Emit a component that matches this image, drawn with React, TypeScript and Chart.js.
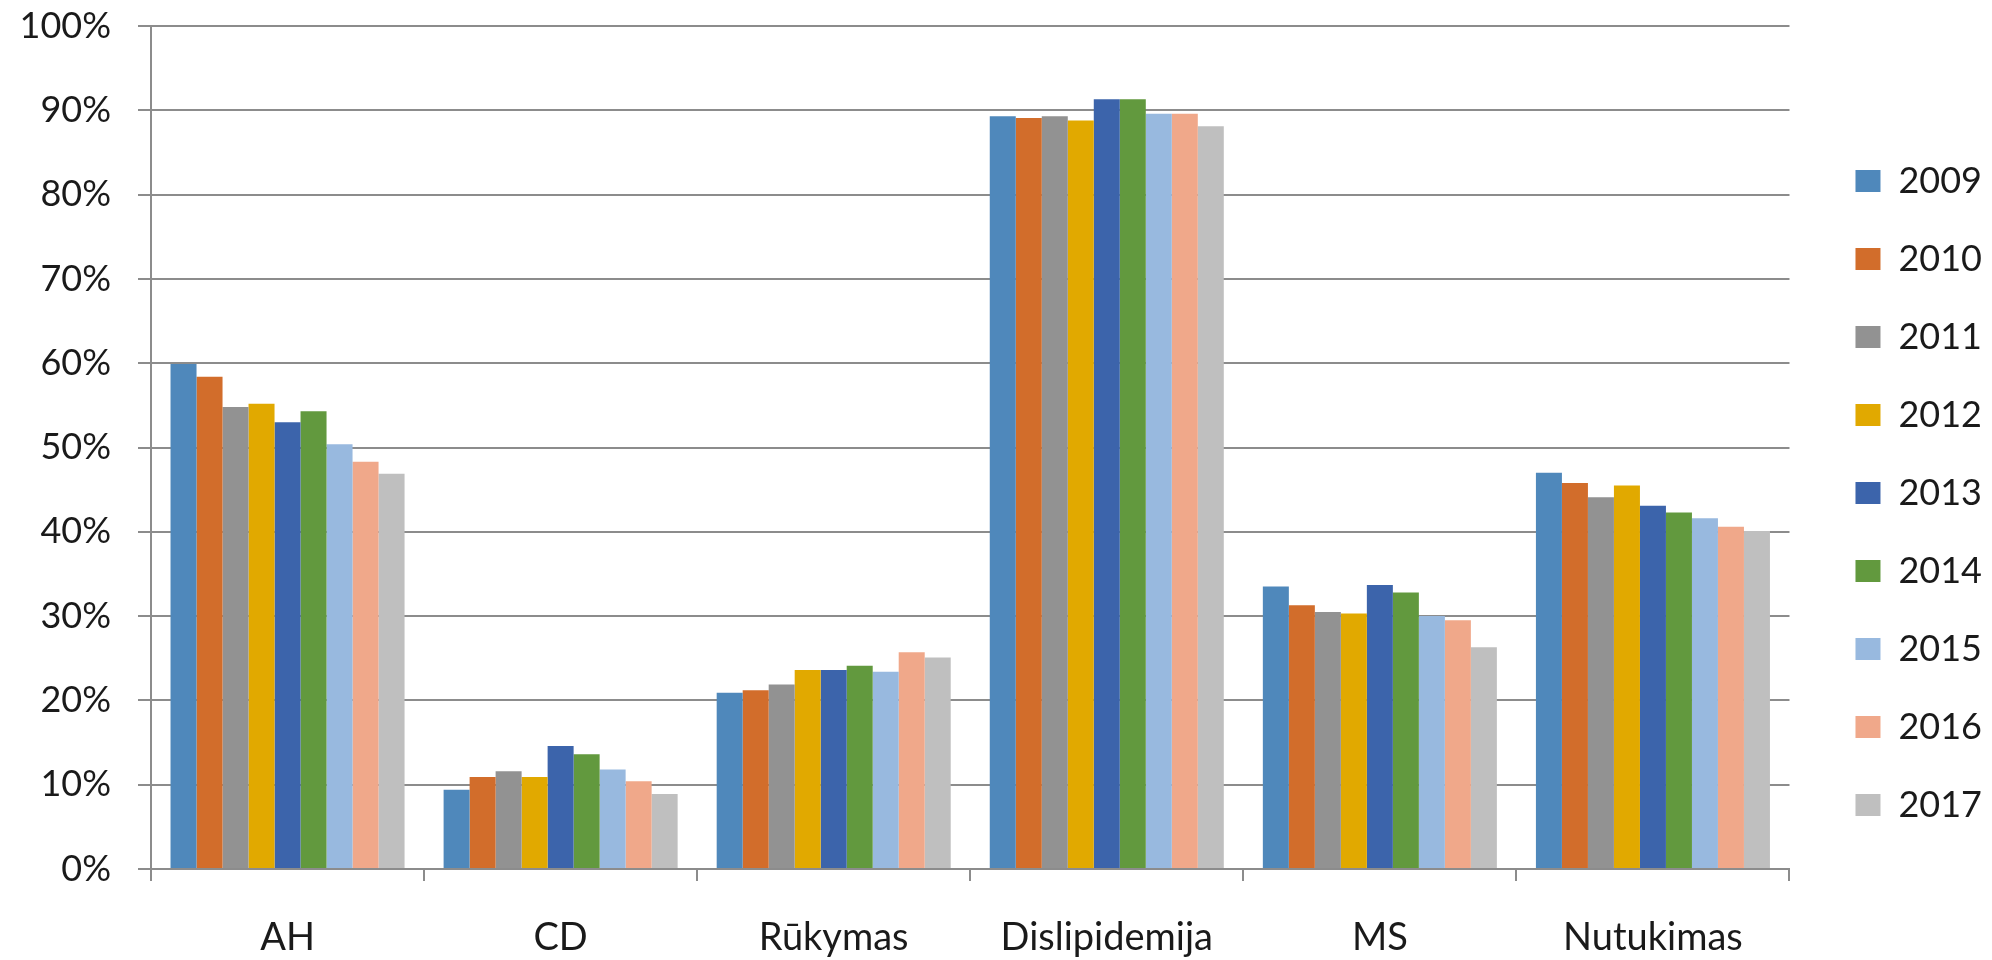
import React, { useEffect, useRef } from 'react';
import { Chart, registerables } from 'chart.js';

Chart.register(...registerables);

const categories = ['AH', 'CD', 'Rūkymas', 'Dislipidemija', 'MS', 'Nutukimas'];
const years = ['2009', '2010', '2011', '2012', '2013', '2014', '2015', '2016', '2017'];

const v2009 = [59.9, 9.4, 20.9, 89.3, 33.5, 47.0];
const v2010 = [58.4, 10.9, 21.2, 89.1, 31.3, 45.8];
const v2011 = [54.8, 11.6, 21.9, 89.3, 30.5, 44.1];
const v2012 = [55.2, 10.9, 23.6, 88.8, 30.3, 45.5];
const v2013 = [53.0, 14.6, 23.6, 91.3, 33.7, 43.1];
const v2014 = [54.3, 13.6, 24.1, 91.3, 32.8, 42.3];
const v2015 = [50.4, 11.8, 23.4, 89.6, 30.0, 41.6];
const v2016 = [48.3, 10.4, 25.7, 89.6, 29.5, 40.6];
const v2017 = [46.9, 8.9, 25.1, 88.1, 26.3, 40.1];

const yMin = 0;
const yMax = 100;
const yStep = 10;

const seriesValues = [v2009, v2010, v2011, v2012, v2013, v2014, v2015, v2016, v2017];

const colors = [
  '#4f88bb',
  '#d26d2b',
  '#929292',
  '#e1a900',
  '#3c64ab',
  '#62993e',
  '#98b9df',
  '#f0a88a',
  '#bfbfbf',
];

const GRID = '#8c8c8c';
const TEXT = '#1a1a1a';

const shiftLegend = {
  id: 'shiftLegend',
  afterLayout(chart: any) {
    const l = chart.legend;
    if (l) {
      l.left += 24;
      l.right += 24;
    }
  },
};

export default function App() {
  const ref = useRef<HTMLCanvasElement | null>(null);

  useEffect(() => {
    if (!ref.current) return;
    Chart.defaults.font.family = 'Lato';
    Chart.defaults.color = TEXT;
    const chart = new Chart(ref.current, {
      type: 'bar',
      data: {
        labels: categories,
        datasets: years.map((y, i) => ({
          label: y,
          data: seriesValues[i],
          backgroundColor: colors[i],
          borderWidth: 0,
          categoryPercentage: 0.857,
          barPercentage: 1.0,
        })),
      },
      options: {
        animation: false,
        responsive: false,
        devicePixelRatio: 1,
        layout: { padding: { top: 26, right: 24, bottom: 0, left: 0 } },
        plugins: {
          legend: {
            position: 'right',
            labels: {
              boxWidth: 25,
              boxHeight: 22,
              padding: 42,
              color: TEXT,
              font: { family: 'Lato', size: 36 },
            },
          },
          tooltip: { enabled: false },
        },
        scales: {
          x: {
            grid: {
              display: true,
              drawOnChartArea: false,
              drawTicks: true,
              tickLength: 12,
              color: GRID,
              lineWidth: 2,
              offset: true,
            },
            border: { display: true, color: GRID, width: 2 },
            ticks: {
              color: TEXT,
              font: { family: 'Lato', size: 38 },
              padding: 34,
              maxRotation: 0,
            },
            afterFit: (s: any) => {
              s.height = 91;
              s.paddingLeft = 0;
              s.paddingRight = 0;
            },
          },
          y: {
            min: yMin,
            max: yMax,
            grid: {
              color: GRID,
              lineWidth: 2,
              drawTicks: true,
              tickLength: 13,
            },
            border: { display: true, color: GRID, width: 2 },
            ticks: {
              stepSize: yStep,
              color: TEXT,
              font: { family: 'Lato', size: 36 },
              padding: 27,
              callback: (v: any) => `${v}%`,
            },
            afterFit: (s: any) => {
              s.width = 151;
              s.paddingTop = 0;
              s.paddingBottom = 0;
            },
          },
        },
      },
      plugins: [shiftLegend],
    });
    return () => chart.destroy();
  }, []);

  return (
    <div style={{ position: 'absolute', left: 0, top: 0, width: 1992, height: 960, background: '#fff' }}>
      <canvas ref={ref} width={1992} height={960} />
    </div>
  );
}
